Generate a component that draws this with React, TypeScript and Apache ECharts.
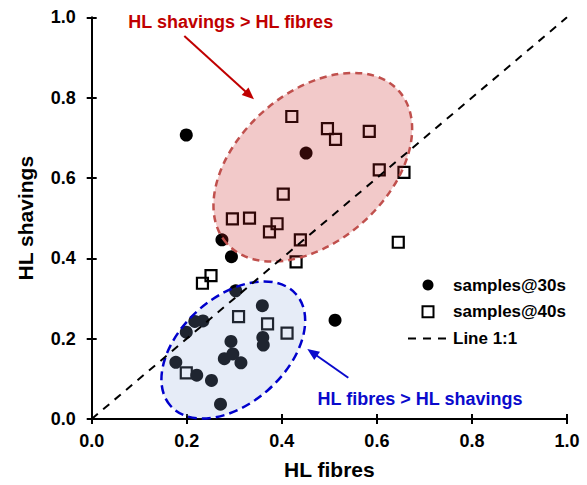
import React, { useEffect, useRef } from "react";
import * as echarts from "echarts";

// ---- data ----
const samples30s: [number, number][] = [
  [0.199, 0.707], [0.451, 0.662], [0.274, 0.446], [0.294, 0.404], [0.303, 0.319],
  [0.359, 0.282], [0.217, 0.243], [0.234, 0.244], [0.199, 0.216], [0.293, 0.193],
  [0.360, 0.203], [0.361, 0.184], [0.297, 0.162], [0.279, 0.150], [0.314, 0.140],
  [0.177, 0.141], [0.221, 0.109], [0.252, 0.096], [0.271, 0.037], [0.512, 0.246],
];
const samples40s: [number, number][] = [
  [0.421, 0.753], [0.496, 0.723], [0.513, 0.696], [0.584, 0.716], [0.605, 0.620],
  [0.657, 0.614], [0.403, 0.560], [0.296, 0.498], [0.332, 0.500], [0.390, 0.486],
  [0.374, 0.466], [0.439, 0.446], [0.430, 0.391], [0.645, 0.440], [0.251, 0.357],
  [0.233, 0.338], [0.309, 0.255], [0.370, 0.237], [0.411, 0.214], [0.199, 0.115],
];
const lineOneToOne: [number, number][] = [[0, 0], [1, 1]];
const seriesNames = ["samples@30s", "samples@40s", "Line 1:1"];
const xAxisTitle = "HL fibres";
const yAxisTitle = "HL shavings";
const noteAbove = "HL shavings > HL fibres";
const noteBelow = "HL fibres > HL shavings";

const FONT = '"Liberation Sans", Arial, Helvetica, sans-serif';

function arrow(x1: number, y1: number, x2: number, y2: number, color: string) {
  const dx = x2 - x1, dy = y2 - y1;
  const len = Math.hypot(dx, dy);
  const ux = dx / len, uy = dy / len;
  const L = 12, W = 5;
  const bx = x2 - ux * L, by = y2 - uy * L;
  return [
    { type: "line", z: 10, silent: true, shape: { x1, y1, x2: bx + ux * 2, y2: by + uy * 2 }, style: { stroke: color, lineWidth: 2 } },
    {
      type: "polygon", z: 10, silent: true,
      shape: { points: [[x2, y2], [bx - uy * W, by + ux * W], [bx + uy * W, by - ux * W]] },
      style: { fill: color },
    },
  ];
}

export default function App() {
  const ref = useRef<HTMLDivElement>(null);
  useEffect(() => {
    if (!ref.current) return;
    const chart = echarts.init(ref.current, undefined, { renderer: "svg" });
    const axisCommon = {
      min: 0, max: 1, interval: 0.2,
      splitLine: { show: false },
    };
    const option: any = {
      animation: false,
      grid: { left: 91.7, right: 20, top: 17.3, bottom: 63.5 },
      xAxis: [
        {
          ...axisCommon, type: "value", position: "bottom",
          name: xAxisTitle, nameLocation: "middle", nameGap: 40,
          nameTextStyle: { fontFamily: FONT, fontWeight: "bold", fontSize: 21, color: "#000" },
          axisLine: { onZero: false, lineStyle: { color: "#000", width: 2 } },
          axisTick: { length: 5, lineStyle: { color: "#000", width: 2 } },
          axisLabel: { margin: 13, fontFamily: FONT, fontWeight: "bold", fontSize: 18, color: "#000", formatter: (v: number) => v.toFixed(1) },
        },
        {
          ...axisCommon, type: "value", position: "bottom",
          axisLine: { show: false },
          axisTick: { inside: true, length: 5, lineStyle: { color: "#000", width: 2 } },
          axisLabel: { show: false },
        },
      ],
      yAxis: [
        {
          ...axisCommon, type: "value", position: "left",
          name: yAxisTitle, nameLocation: "middle", nameGap: 56,
          nameTextStyle: { fontFamily: FONT, fontWeight: "bold", fontSize: 21, color: "#000" },
          axisLine: { onZero: false, lineStyle: { color: "#000", width: 2 } },
          axisTick: { length: 5, lineStyle: { color: "#000", width: 2 } },
          axisLabel: { margin: 16, fontFamily: FONT, fontWeight: "bold", fontSize: 18, color: "#000", formatter: (v: number) => v.toFixed(1) },
        },
        {
          ...axisCommon, type: "value", position: "left",
          axisLine: { show: false },
          axisTick: { inside: true, length: 5, lineStyle: { color: "#000", width: 2 } },
          axisLabel: { show: false },
        },
      ],
      legend: {
        orient: "vertical", left: 402, top: 271.5, padding: 5,
        itemWidth: 40, itemHeight: 11, itemGap: 9.75,
        textStyle: { fontFamily: FONT, fontWeight: "bold", fontSize: 17, color: "#000", lineHeight: 17 },
        data: [
          { name: seriesNames[0], icon: "circle" },
          { name: seriesNames[1], icon: "path://M0 0H10V10H0Z" },
          { name: seriesNames[2], itemStyle: { color: "rgba(0,0,0,0)", borderWidth: 0, opacity: 0 } },
        ],
      },
      series: [
        {
          name: seriesNames[0], type: "scatter", z: 1,
          xAxisIndex: 0, yAxisIndex: 0,
          symbol: "circle", symbolSize: 13,
          itemStyle: { color: "#000", opacity: 1 },
          data: samples30s,
        },
        {
          name: seriesNames[1], type: "scatter", z: 1,
          xAxisIndex: 0, yAxisIndex: 0,
          symbol: "rect", symbolSize: 11,
          itemStyle: { color: "rgba(255,255,255,0)", borderColor: "#000", borderWidth: 2.2, opacity: 1 },
          data: samples40s,
        },
        {
          name: seriesNames[2], type: "line", z: 8,
          xAxisIndex: 0, yAxisIndex: 0,
          symbol: "none",
          lineStyle: { color: "#000", width: 2, type: [8, 7] },
          itemStyle: { color: "#000" },
          data: lineOneToOne,
        },
      ],
      graphic: [
        {
          type: "ellipse", z: 5, silent: true,
          x: 312.8, y: 167.2, rotation: (41.4 * Math.PI) / 180,
          shape: { cx: 0, cy: 0, rx: 115, ry: 74.5 },
          style: { fill: "rgba(200,30,30,0.24)", stroke: "#c0504d", lineWidth: 2.5, lineDash: [7, 5] },
        },
        {
          type: "ellipse", z: 5, silent: true,
          x: 233.3, y: 350, rotation: (41.8 * Math.PI) / 180,
          shape: { cx: 0, cy: 0, rx: 84, ry: 53 },
          style: { fill: "rgba(141,168,218,0.22)", stroke: "#0000cc", lineWidth: 2.5, lineDash: [9, 5] },
        },
        {
          type: "text", z: 10, x: 230.7, y: 22,
          style: { text: noteAbove, fill: "#c00000", font: `bold 18px ${FONT}`, align: "center", verticalAlign: "middle", textAlign: "center", textVerticalAlign: "middle" },
        },
        {
          type: "text", z: 10, x: 420, y: 399,
          style: { text: noteBelow, fill: "#0a0acc", font: `bold 18px ${FONT}`, align: "center", verticalAlign: "middle", textAlign: "center", textVerticalAlign: "middle" },
        },
        ...arrow(184.3, 36, 254, 99.3, "#c00000"),
        ...arrow(348.3, 377.7, 307.3, 349, "#0a0acc"),
      ],
    };
    chart.setOption(option);
    return () => chart.dispose();
  }, []);
  return (
    <div
      ref={ref}
      style={{ position: "fixed", left: 0, top: 0, width: 587, height: 485, background: "#fff" }}
    />
  );
}
